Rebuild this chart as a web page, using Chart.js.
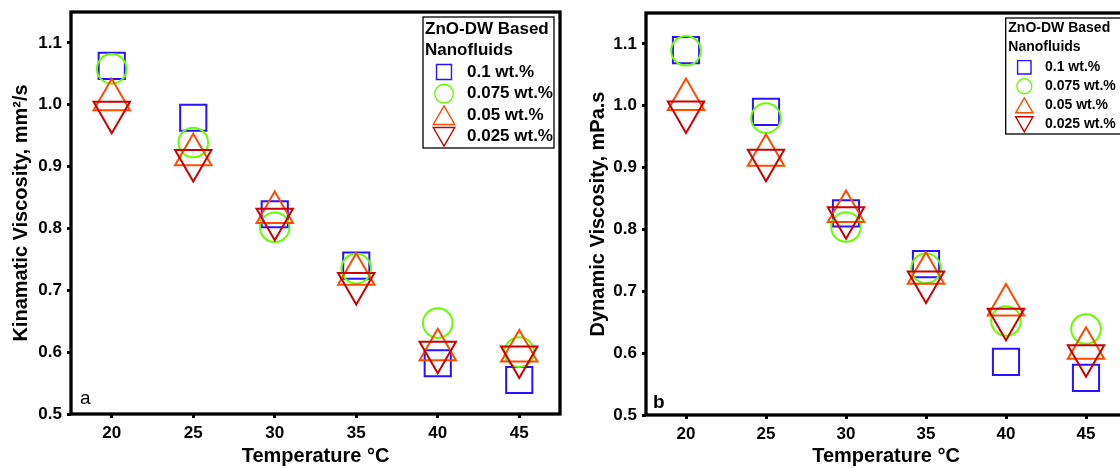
<!DOCTYPE html>
<html><head><meta charset="utf-8">
<script src="https://cdn.jsdelivr.net/npm/chart.js@4.4.1/dist/chart.umd.min.js"></script>
<style>
html,body{margin:0;padding:0;width:1120px;height:468px;overflow:hidden;background:#fff}
#wa{position:absolute;left:0;top:0;width:580px;height:468px}
#wb{position:absolute;left:580px;top:0;width:560px;height:468px}
</style></head><body>
<div id="wa"><canvas id="ca" width="580" height="468"></canvas></div>
<div id="wb"><canvas id="cb" width="560" height="468"></canvas></div>
<script>
// ---- data ----
const temps = [20, 25, 30, 35, 40, 45];
const xTicks = [20, 25, 30, 35, 40, 45];
const yTicks = [0.5, 0.6, 0.7, 0.8, 0.9, 1.0, 1.1];
const seriesNames = ['0.1 wt.%', '0.075 wt.%', '0.05 wt.%', '0.025 wt.%'];
const legendTitle = ['ZnO-DW Based', 'Nanofluids'];
const xTitle = 'Temperature \u00B0C';
const kinTitle = 'Kinamatic Viscosity, mm\u00B2/s';
const dynTitle = 'Dynamic Viscosity, mPa.s';

const kin01   = [1.063, 0.979, 0.823, 0.740, 0.582, 0.555];
const kin0075 = [1.058, 0.939, 0.802, 0.735, 0.647, 0.600];
const kin005  = [1.008, 0.919, 0.826, 0.726, 0.604, 0.602];
const kin0025 = [0.988, 0.910, 0.815, 0.711, 0.600, 0.592];

const dyn01   = [1.090, 0.990, 0.826, 0.744, 0.586, 0.560];
const dyn0075 = [1.089, 0.980, 0.804, 0.737, 0.652, 0.639];
const dyn005  = [1.010, 0.920, 0.829, 0.729, 0.678, 0.608];
const dyn0025 = [0.990, 0.912, 0.819, 0.715, 0.655, 0.596];

// ---- styles ----
const FONT = '"Liberation Sans", Arial, sans-serif';
const styles = [
  {pointStyle: 'rect',     color: '#2a12ff', r: 18.5, rot: 0},
  {pointStyle: 'circle',   color: '#66ff00', r: 14.8, rot: 0},
  {pointStyle: 'triangle', color: '#ff4a00', r: 21,   rot: 0},
  {pointStyle: 'triangle', color: '#cc0000', r: 21,   rot: 180}
];

function drawMarker(ctx, st, x, y, r) {
  ctx.beginPath();
  if (st.pointStyle === 'rect') {
    const s = Math.SQRT1_2 * r;
    ctx.rect(x - s, y - s, 2 * s, 2 * s);
  } else if (st.pointStyle === 'circle') {
    ctx.arc(x, y, r, 0, Math.PI * 2);
  } else {
    let rad = st.rot * Math.PI / 180;
    ctx.moveTo(x + Math.sin(rad) * r, y - Math.cos(rad) * r);
    rad += 2 * Math.PI / 3;
    ctx.lineTo(x + Math.sin(rad) * r, y - Math.cos(rad) * r);
    rad += 2 * Math.PI / 3;
    ctx.lineTo(x + Math.sin(rad) * r, y - Math.cos(rad) * r);
    ctx.closePath();
  }
  ctx.strokeStyle = st.color;
  ctx.stroke();
}

const framePlugin = {
  id: 'frameAndLegend',
  afterDraw(chart, args, o) {
    const ctx = chart.ctx, ca = chart.chartArea;
    ctx.save();
    // frame
    ctx.lineWidth = 3.3;
    ctx.strokeStyle = '#000';
    ctx.strokeRect(ca.left, ca.top, ca.right - ca.left, ca.bottom - ca.top);
    // panel letter
    ctx.fillStyle = '#000';
    ctx.font = o.labelFont;
    ctx.textBaseline = 'alphabetic';
    ctx.textAlign = 'left';
    ctx.fillText(o.label, ca.left + o.labelDx, o.labelY);
    // legend
    const L = o.legend;
    ctx.lineWidth = 1.3;
    ctx.strokeStyle = '#000';
    ctx.fillStyle = '#fff';
    ctx.fillRect(L.x, L.y, L.w, L.h);
    ctx.strokeRect(L.x, L.y, L.w, L.h);
    ctx.fillStyle = '#000';
    ctx.font = 'bold ' + L.fs + 'px ' + FONT;
    ctx.textBaseline = 'middle';
    legendTitle.forEach((t, i) => ctx.fillText(t, L.tx, L.ty + i * L.tlh));
    seriesNames.forEach((n, i) => {
      const y = L.ey + i * L.lh;
      ctx.lineWidth = 1.4;
      const st = styles[i];
      const dy = st.pointStyle === 'triangle' ? (st.rot ? -L.sr[i] * 0.25 : L.sr[i] * 0.25) : 0;
      drawMarker(ctx, st, L.sx, y + dy, L.sr[i]);
      ctx.fillStyle = '#000';
      ctx.fillText(n, L.nx, y);
    });
    ctx.restore();
  }
};

function makeChart(id, series, cfg) {
  const datasets = series.map((vals, i) => ({
    label: seriesNames[i],
    data: temps.map((t, j) => ({x: t, y: vals[j]})),
    pointStyle: styles[i].pointStyle,
    pointRotation: styles[i].rot,
    pointRadius: styles[i].r,
    pointHoverRadius: styles[i].r,
    pointBorderWidth: 2,
    pointBorderColor: styles[i].color,
    pointBackgroundColor: 'rgba(0,0,0,0)',
    showLine: false,
    order: 4 - i
  }));
  const tickFont = {family: FONT, size: 17, weight: 'bold'};
  const zeroPad = s => { s.paddingTop = 0; s.paddingBottom = 0; s.paddingLeft = 0; s.paddingRight = 0; };
  return new Chart(document.getElementById(id), {
    type: 'scatter',
    data: {datasets},
    options: {
      responsive: false,
      animation: false,
      devicePixelRatio: 1,
      layout: {padding: cfg.padding, autoPadding: false},
      plugins: {
        legend: {display: false},
        tooltip: {enabled: false},
        frameAndLegend: cfg.frame
      },
      scales: {
        x: {
          type: 'linear', min: 17.5, max: 47.5,
          afterBuildTicks: s => { s.ticks = xTicks.map(v => ({value: v})); },
          afterFit: s => { s.height = cfg.xHeight; zeroPad(s); },
          ticks: {font: tickFont, color: '#000', padding: 5, callback: v => String(v), maxRotation: 0},
          grid: {display: true, drawOnChartArea: false, drawTicks: true, tickLength: 4, tickWidth: 3, tickColor: '#000'},
          border: {display: false},
          title: {display: true, text: xTitle, color: '#000', font: {family: FONT, size: 20, weight: 'bold'}, padding: {top: 0, bottom: 0}}
        },
        y: {
          type: 'linear', min: 0.5, max: 1.15,
          afterBuildTicks: s => { s.ticks = yTicks.map(v => ({value: v})); },
          afterFit: s => { s.width = cfg.yWidth; zeroPad(s); },
          ticks: {font: tickFont, color: '#000', padding: 5, callback: v => v.toFixed(1)},
          grid: {display: true, drawOnChartArea: false, drawTicks: true, tickLength: 4, tickWidth: 3, tickColor: '#000'},
          border: {display: false},
          title: {display: true, text: cfg.yTitle, color: '#000', font: {family: FONT, size: 20, weight: 'bold'}, padding: {top: cfg.yTitlePad, bottom: 0}}
        }
      }
    },
    plugins: [framePlugin]
  });
}

makeChart('ca', [kin01, kin0075, kin005, kin0025], {
  padding: {left: 0, right: 20, top: 12, bottom: 0},
  xHeight: 54, yWidth: 71,
  yTitle: kinTitle, yTitlePad: 9,
  frame: {
    label: 'a', labelFont: '19px ' + FONT, labelDx: 9, labelY: 403.5,
    legend: {x: 423, y: 17, w: 131, h: 131, fs: 17, tx: 425, ty: 29.5, tlh: 20.7,
             ey: 72, lh: 21.6, sx: 444, nx: 467, sr: [10.6, 9.3, 12.4, 12.4]}
  }
});

makeChart('cb', [dyn01, dyn0075, dyn005, dyn0025], {
  padding: {left: 0, right: 14, top: 13, bottom: 0},
  xHeight: 53, yWidth: 66,
  yTitle: dynTitle, yTitlePad: 6,
  frame: {
    label: 'b', labelFont: 'bold 19px ' + FONT, labelDx: 7, labelY: 408,
    legend: {x: 425.7, y: 18, w: 140, h: 116, fs: 14, tx: 428.3, ty: 28.5, tlh: 18.3,
             ey: 67.3, lh: 19, sx: 444.3, nx: 465, sr: [9.5, 7.5, 10, 10]}
  }
});
</script>
</body></html>
